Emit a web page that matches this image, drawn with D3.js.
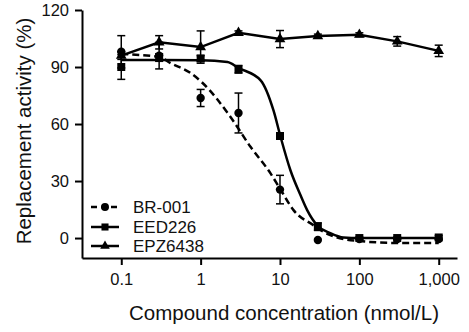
<!DOCTYPE html>
<html>
<head>
<meta charset="utf-8">
<script src="https://cdn.jsdelivr.net/npm/d3@7"></script>
<style>
  html, body { margin: 0; padding: 0; background: #fff; }
  svg { display: block; font-family: "Liberation Sans", Arial, sans-serif; }
</style>
</head>
<body>
<svg id="chart" width="469" height="332"></svg>
<script>
// ---- data ----
const concentrations = [0.1, 0.3, 1, 3, 10, 30, 100, 300, 1000];
const xTicks = [0.1, 1, 10, 100, 1000];
const yTicks = [0, 30, 60, 90, 120];
const seriesNames = ["BR-001", "EED226", "EPZ6438"];

// mean values
const br001Mean   = [98, 96, 73.7, 65.8, 25.5, -1, -0.5, -0.5, -0.5];
const eed226Mean  = [90, 95, 94.5, 88.8, 53.7, 6, 0, 0, 0.3];
const epz6438Mean = [96, 103, 100.5, 108, 104.7, 106.3, 107, 103.5, 98.5];
// error (half-range)
const br001Err   = [8.5, 7, 4.5, 10.5, 7.5, 0, 0, 0, 0];
const eed226Err  = [6.5, 2, 1.5, 2, 1.5, 2, 0.5, 0.5, 1];
const epz6438Err = [2, 3.5, 8.5, 1, 4.5, 1, 1, 2.5, 3];

// fitted curves
const br001FitX = [0.1, 0.3, 0.42, 0.75, 1.06, 2.38, 4.25, 7.6, 10, 14.8, 26.3, 43, 100, 330, 1000];
const br001FitY = [96.8, 95.3, 92, 86.8, 81.6, 63.7, 48, 34, 26, 14.7, 6.8, 1.5, -1.6, -2.6, -2.6];
const eed226FitX = [0.1, 0.31, 1, 2.18, 3, 5.7, 8.3, 10.1, 13.5, 18.1, 22, 30, 43, 63, 100, 300, 1000];
const eed226FitY = [93.7, 93.7, 93.6, 92.6, 89.5, 83, 67, 53.7, 35.8, 22.6, 14.7, 6.3, 2.6, 0.3, 0, 0, 0];

// ---- drawing ----
const svg = d3.select("#chart");
const x = d3.scaleLog().domain([0.032, 1700]).range([82, 457]);
const y = d3.scaleLinear().domain([-10.5, 120]).range([258, 10]);

const BLACK = "#000";

// axes
const xAxis = d3.axisBottom(x).tickValues(xTicks).tickFormat(d3.format(","))
  .tickSize(7).tickSizeOuter(0).tickPadding(8);
const yAxis = d3.axisLeft(y).tickValues(yTicks).tickFormat(d3.format("d"))
  .tickSize(7).tickSizeOuter(0).tickPadding(6);

const gx = svg.append("g").attr("transform", "translate(0,258)").call(xAxis);
const gy = svg.append("g").attr("transform", "translate(82,0)").call(yAxis);
[gx, gy].forEach(g => {
  g.select(".domain").attr("stroke", BLACK).attr("stroke-width", 2);
  g.selectAll(".tick line").attr("stroke", BLACK).attr("stroke-width", 2);
  g.selectAll(".tick text").attr("fill", "#111").style("font-size", "16.5px")
    .style("font-family", '"Liberation Sans", Arial, sans-serif');
});

// axis titles
svg.append("text")
  .attr("x", 284).attr("y", 320)
  .attr("text-anchor", "middle")
  .style("font-size", "20.5px").attr("fill", "#111")
  .text("Compound concentration (nmol/L)");
svg.append("text")
  .attr("transform", "translate(31,131) rotate(-90)")
  .attr("text-anchor", "middle")
  .style("font-size", "20.5px").attr("fill", "#111")
  .text("Replacement activity (%)");

// lines
const line = d3.line().x(d => x(d[0])).y(d => y(d[1]));
const smooth = d3.line().x(d => x(d[0])).y(d => y(d[1])).curve(d3.curveMonotoneX);

const br001Fit = br001FitX.map((c, i) => [c, br001FitY[i]]);
const eed226Fit = eed226FitX.map((c, i) => [c, eed226FitY[i]]);
const epzPts = concentrations.map((c, i) => [c, epz6438Mean[i]]);

svg.append("path").attr("d", smooth(br001Fit)).attr("fill", "none")
  .attr("stroke", BLACK).attr("stroke-width", 2.5).attr("stroke-dasharray", "7,4");
svg.append("path").attr("d", smooth(eed226Fit)).attr("fill", "none")
  .attr("stroke", BLACK).attr("stroke-width", 2.5);
svg.append("path").attr("d", line(epzPts)).attr("fill", "none")
  .attr("stroke", BLACK).attr("stroke-width", 2.5);

// error bars
function errorBars(means, errs) {
  const g = svg.append("g").attr("stroke", BLACK).attr("stroke-width", 1.5);
  concentrations.forEach((c, i) => {
    if (errs[i] <= 0) return;
    const cx = x(c), y1 = y(means[i] + errs[i]), y2 = y(means[i] - errs[i]);
    g.append("line").attr("x1", cx).attr("x2", cx).attr("y1", y1).attr("y2", y2);
    g.append("line").attr("x1", cx - 4).attr("x2", cx + 4).attr("y1", y1).attr("y2", y1);
    g.append("line").attr("x1", cx - 4).attr("x2", cx + 4).attr("y1", y2).attr("y2", y2);
  });
}
errorBars(epz6438Mean, epz6438Err);
errorBars(eed226Mean, eed226Err);
errorBars(br001Mean, br001Err);

// markers
const sym = {
  "BR-001": d3.symbol().type(d3.symbolCircle).size(55),
  "EED226": d3.symbol().type(d3.symbolSquare).size(64),
  "EPZ6438": d3.symbol().type(d3.symbolTriangle).size(50)
};
function markers(name, means) {
  svg.append("g").selectAll("path").data(concentrations).join("path")
    .attr("transform", (c, i) => `translate(${x(c)},${y(means[i])})`)
    .attr("d", sym[name]()).attr("fill", BLACK);
}
markers("EPZ6438", epz6438Mean);
markers("BR-001", br001Mean);
markers("EED226", eed226Mean);

// legend
const legY = [207, 227, 246];
const legend = svg.append("g");
seriesNames.forEach((name, i) => {
  const ly = legY[i];
  legend.append("line").attr("x1", 91).attr("x2", 119).attr("y1", ly).attr("y2", ly)
    .attr("stroke", BLACK).attr("stroke-width", 2.5)
    .attr("stroke-dasharray", name === "BR-001" ? "6,4" : null);
  legend.append("path").attr("transform", `translate(105,${ly})`)
    .attr("d", d3.symbol().type(name === "BR-001" ? d3.symbolCircle : name === "EED226" ? d3.symbolSquare : d3.symbolTriangle)
      .size(name === "EPZ6438" ? 40 : 50)())
    .attr("fill", BLACK);
  legend.append("text").attr("x", 133).attr("y", ly).attr("dy", "0.35em")
    .style("font-size", "17px").attr("fill", "#111").text(name);
});
</script>
</body>
</html>
